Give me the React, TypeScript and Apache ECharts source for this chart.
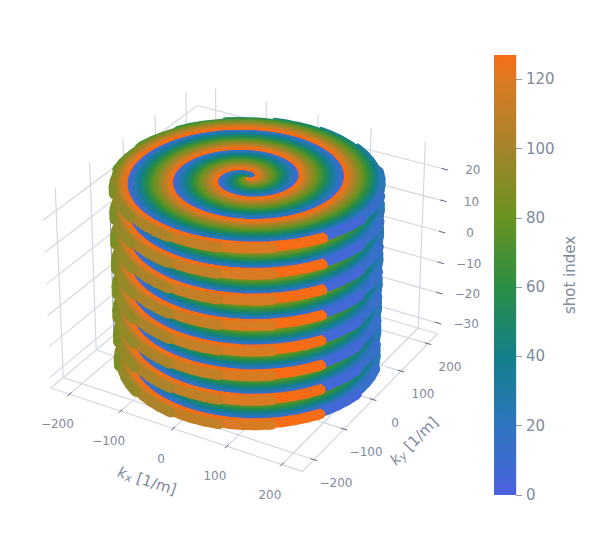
import { useEffect, useRef } from 'react'
import * as echarts from 'echarts'

const FONT = '"DejaVu Sans", sans-serif'
const TEXT = '#7f8a9c'
const GRID = '#d3d8e0'
const TICK = '#5f6b80'
const EDGE = '#8e97aa'

const kxTicks = [-200, -100, 0, 100, 200]
const kyTicks = [-200, -100, 0, 100, 200]
const kzTicks = [-30, -20, -10, 0, 10, 20]
const barTicks = [0, 20, 40, 60, 80, 100, 120]
const kRange = [-237, 237]
const kzRange = [-33.6, 27]
const shotCount = 128
const slices = [-31.4, -23.5, -15.7, -7.9, 0, 7.9, 15.7, 23.6]

// trajectory of the last shot: angle in degrees, radius in 1/m
const armAngle = [-21, 1.5, 24, 46.5, 69, 91.5, 114, 136.5, 159, 181.5, 204, 226.5, 249, 271.5, 294, 316.5, 339, 384, 429, 474, 519, 564, 609, 654, 699, 744, 789, 834, 879, 924, 969, 1014, 1053]
const armRadius = [0, 4.6, 9.2, 13.7, 18.3, 22.9, 27.5, 32.1, 36.6, 41.2, 45.8, 50.4, 55, 59.6, 64.1, 68.7, 73.3, 82.5, 91.6, 100.8, 109.9, 119.1, 128.3, 137.4, 146.6, 155.8, 164.9, 174.1, 183.2, 192.4, 201.2, 209.3, 216.8]
// every eighth shot runs on past the others by this many degrees
const longShotExtra = 33.75
const stepDeg = 5.625
const strokeWidth = 9.5
const thinWidth = 2

// thin grey lines on the left and right of the stack: polar angle, radius, z from and to
const edgeAngles = [215, 35]
const edgeRadius = 222
const edgeZ = [-23.5, 18]

const colorStops: [number, string][] = [
  [0, '#4c62e0'],
  [20, '#2f75c0'],
  [40, '#13808a'],
  [60, '#2b8e45'],
  [80, '#6a9322'],
  [100, '#a3842a'],
  [120, '#dc7a22'],
  [127, '#f76d16'],
]

// camera matrix of the 3D scene, with x, y in hundreds and z in tens
const cam = [
  50.01989, 35.15761, -1.72689, 247.20502,
  12.25007, -21.5657, -33.07224, 257.78541,
  -0.0116, 0.01827, -0.00697,
]

function project(x: number, y: number, z: number) {
  const X = x / 100, Y = y / 100, Z = z / 10
  const w = cam[8] * X + cam[9] * Y + cam[10] * Z + 1
  return [
    (cam[0] * X + cam[1] * Y + cam[2] * Z + cam[3]) / w,
    (cam[4] * X + cam[5] * Y + cam[6] * Z + cam[7]) / w,
    w,
  ]
}

function hex(c: string) {
  return [1, 3, 5].map(i => parseInt(c.slice(i, i + 2), 16))
}

function shotColor(s: number) {
  let i = 0
  while (i < colorStops.length - 2 && s > colorStops[i + 1][0]) i++
  const [s0, c0] = colorStops[i]
  const [s1, c1] = colorStops[i + 1]
  const t = (s - s0) / (s1 - s0)
  const a = hex(c0), b = hex(c1)
  return `rgb(${a.map((v, k) => Math.round(v + (b[k] - v) * t)).join(',')})`
}

const palette = Array.from({ length: shotCount }, (_, s) => shotColor(s))

function segment3d(a: number[], b: number[]) {
  const p = project(a[0], a[1], a[2])
  const q = project(b[0], b[1], b[2])
  return [p[0], p[1], q[0], q[1]]
}

function buildGrid() {
  const out: number[][] = []
  const [k0, k1] = kRange
  const [z0, z1] = kzRange
  kyTicks.forEach(y => {
    out.push(segment3d([k0, y, z0], [k0, y, z1]))
    out.push(segment3d([k0, y, z0], [k1, y, z0]))
  })
  kxTicks.forEach(x => {
    out.push(segment3d([x, k1, z0], [x, k1, z1]))
    out.push(segment3d([x, k0, z0], [x, k1, z0]))
  })
  kzTicks.forEach(z => {
    out.push(segment3d([k0, k0, z], [k0, k1, z]))
    out.push(segment3d([k0, k1, z], [k1, k1, z]))
  })
  out.push(segment3d([k0, k0, z0], [k1, k0, z0]))
  out.push(segment3d([k1, k0, z0], [k1, k1, z0]))
  out.push(segment3d([k0, k1, z0], [k1, k1, z0]))
  out.push(segment3d([k0, k0, z0], [k0, k1, z0]))
  return out
}

function buildTicks() {
  const out: number[][] = []
  const [k0, k1] = kRange
  const z0 = kzRange[0]
  kxTicks.forEach(x => out.push(segment3d([x, k0 - 6, z0], [x, k0 + 6, z0])))
  kyTicks.forEach(y => out.push(segment3d([k1 - 6, y, z0], [k1 + 6, y, z0])))
  kzTicks.forEach(z => out.push(segment3d([k1 - 6, k1, z], [k1 + 6, k1, z])))
  return out
}

function buildEdges() {
  return edgeAngles.map(deg => {
    const x = edgeRadius * Math.cos((deg * Math.PI) / 180)
    const y = edgeRadius * Math.sin((deg * Math.PI) / 180)
    return segment3d([x, y, edgeZ[0]], [x, y, edgeZ[1]])
  })
}

function buildLabels() {
  const out: (number | string)[][] = []
  const [k0, k1] = kRange
  const z0 = kzRange[0]
  const fmt = (v: number) => String(v).replace('-', '\u2212')
  kxTicks.forEach(x => {
    const p = project(x, k0, z0)
    out.push([p[0] - 12, p[1] + 30, fmt(x)])
  })
  kyTicks.forEach(y => {
    const p = project(k1, y, z0)
    out.push([p[0] + 22, p[1] + 23, fmt(y)])
  })
  kzTicks.forEach(z => {
    const p = project(k1, k1, z)
    out.push([p[0] + 28, p[1] + 1, fmt(z)])
  })
  return out
}

function radiusAt(deg: number) {
  let i = 0
  while (i < armAngle.length - 2 && deg > armAngle[i + 1]) i++
  const t = (deg - armAngle[i]) / (armAngle[i + 1] - armAngle[i])
  return armRadius[i] + (armRadius[i + 1] - armRadius[i]) * t
}

type Stroke = { points: number[][]; shot: number; width: number }

const toRad = Math.PI / 180
const armEnd = armAngle[armAngle.length - 1]

function shotTurn(s: number) {
  return ((s - (shotCount - 1)) * 360) / shotCount
}

function shotCuts(s: number) {
  const turn = shotTurn(s)
  const start = armAngle[0] + turn
  const end = (s % 8 === 7 ? armEnd : armEnd - longShotExtra) + turn
  const cuts = [start]
  for (let k = Math.ceil(start / stepDeg); k * stepDeg < end; k++) cuts.push(k * stepDeg)
  cuts.push(end)
  return cuts
}

function polar(r: number, deg: number, z: number) {
  return project(r * Math.cos(deg * toRad), r * Math.sin(deg * toRad), z)
}

// A thick line seen in depth shows, at each pixel, the shot nearest the camera, and
// that lies half a stroke lower on screen. So each slice is the outer rim as full
// strokes, ordered by depth, then the shots as thin lines moved up by half a stroke.
function buildStrokes() {
  const out: Stroke[] = []
  slices.forEach((z, layer) => {
    const top = layer === slices.length - 1
    const rim: { w: number; stroke: Stroke }[] = []
    for (let s = 7; s < shotCount; s += 8) {
      const turn = shotTurn(s)
      const cuts = shotCuts(s)
      for (let i = 1; i < cuts.length; i++) {
        const r0 = radiusAt(cuts[i - 1] - turn)
        const r1 = radiusAt(cuts[i] - turn)
        if (r1 < 200) continue
        const p = polar(r0, cuts[i - 1], z)
        const q = polar(r1, cuts[i], z)
        const mid = (Math.floor((cuts[i - 1] + cuts[i]) / 2 / stepDeg) + 0.5) * stepDeg
        rim.push({
          w: polar((r0 + r1) / 2, mid, z)[2],
          stroke: { points: [[p[0], p[1]], [q[0], q[1]]], shot: s, width: strokeWidth },
        })
      }
    }
    rim.sort((a, b) => b.w - a.w)
    rim.forEach(it => out.push(it.stroke))

    for (let s = 0; s < shotCount; s++) {
      const turn = shotTurn(s)
      let run: number[][] = []
      shotCuts(s).forEach(deg => {
        const r = radiusAt(deg - turn)
        const off = Math.abs(((deg - 298) % 360 + 540) % 360 - 180)
        if (top || (r >= 125 && off <= 120)) {
          const p = polar(r, deg, z)
          run.push([p[0], p[1] - strokeWidth / 2])
        } else if (run.length) {
          if (run.length > 1) out.push({ points: run, shot: s, width: thinWidth })
          run = []
        }
      })
      if (run.length > 1) out.push({ points: run, shot: s, width: thinWidth })
    }
  })
  return out
}

export default function App() {
  const chartRef = useRef<HTMLDivElement>(null)

  useEffect(() => {
    if (!chartRef.current) return
    document.body.style.margin = '0'
    const chart = echarts.init(chartRef.current, null, { renderer: 'svg' })

    const lineItem = (color: string, width: number) => (_: any, api: any) => {
      const a = api.coord([api.value(0), api.value(1)])
      const b = api.coord([api.value(2), api.value(3)])
      return {
        type: 'line',
        shape: { x1: a[0], y1: a[1], x2: b[0], y2: b[1] },
        style: { stroke: color, lineWidth: width, fill: null },
      }
    }

    const titleRich = {
      k: { fontFamily: FONT, fontStyle: 'italic', fontSize: 15, fill: TEXT },
      s: { fontFamily: FONT, fontStyle: 'italic', fontSize: 11, fill: TEXT, padding: [6, 0, 0, 0] },
      n: { fontFamily: FONT, fontSize: 15, fill: TEXT },
    }

    const strokes = buildStrokes()

    const option = {
      animation: false,
      backgroundColor: '#fff',
      textStyle: { fontFamily: FONT },
      grid: [
        { left: 0, top: 0, width: 605, height: 550 },
        { left: 494, top: 55, width: 22, height: 440 },
      ],
      xAxis: [
        { type: 'value', gridIndex: 0, min: 0, max: 605, show: false },
        { type: 'category', gridIndex: 1, data: ['shot'], show: false },
      ],
      yAxis: [
        { type: 'value', gridIndex: 0, min: 0, max: 550, inverse: true, show: false },
        {
          type: 'value',
          gridIndex: 1,
          position: 'right',
          min: 0,
          max: shotCount - 1,
          name: 'shot index',
          nameLocation: 'middle',
          nameRotate: 90,
          nameGap: 46,
          nameTextStyle: { color: TEXT, fontSize: 15, fontFamily: FONT },
          axisLine: { show: true, lineStyle: { color: '#e3e6ed' } },
          axisTick: { show: true, length: 6, customValues: barTicks, lineStyle: { color: '#8d97aa' } },
          axisLabel: { color: TEXT, fontSize: 15, margin: 10, padding: [2, 0, 0, 0], fontFamily: FONT, customValues: barTicks },
          splitLine: { show: false },
        },
      ],
      graphic: [
        {
          type: 'text',
          x: 147,
          y: 481,
          rotation: (-18 * Math.PI) / 180,
          style: { text: '{k|k}{s|x}{n| [1/m]}', align: 'center', verticalAlign: 'middle', rich: titleRich },
        },
        {
          type: 'text',
          x: 414,
          y: 441,
          rotation: (45 * Math.PI) / 180,
          style: { text: '{k|k}{s|y}{n| [1/m]}', align: 'center', verticalAlign: 'middle', rich: titleRich },
        },
      ],
      series: [
        {
          type: 'bar',
          xAxisIndex: 1,
          yAxisIndex: 1,
          barWidth: '100%',
          silent: true,
          data: [shotCount - 1],
          itemStyle: {
            color: new echarts.graphic.LinearGradient(
              0, 1, 0, 0,
              colorStops.map(([s, c]) => ({ offset: s / (shotCount - 1), color: c })),
            ),
          },
        },
        {
          type: 'custom',
          name: 'grid',
          silent: true,
          z: 1,
          clip: false,
          progressive: 0,
          data: buildGrid(),
          encode: { x: [0, 2], y: [1, 3] },
          renderItem: lineItem(GRID, 1.2),
        },
        {
          type: 'custom',
          name: 'ticks',
          silent: true,
          z: 1,
          clip: false,
          data: buildTicks(),
          encode: { x: [0, 2], y: [1, 3] },
          renderItem: lineItem(TICK, 1),
        },
        {
          type: 'custom',
          name: 'edges',
          silent: true,
          z: 1,
          clip: false,
          data: buildEdges(),
          encode: { x: [0, 2], y: [1, 3] },
          renderItem: lineItem(EDGE, 1),
        },
        {
          type: 'custom',
          name: 'arms',
          silent: true,
          z: 2,
          clip: false,
          progressive: 0,
          data: strokes.map((st, i) => [st.points[0][0], st.points[0][1], i]),
          encode: { x: 0, y: 1 },
          renderItem: (_: any, api: any) => {
            const st = strokes[api.value(2)]
            return {
              type: 'polyline',
              shape: { points: st.points.map(p => api.coord(p)) },
              style: { stroke: palette[st.shot], lineWidth: st.width, lineCap: 'round', lineJoin: 'round', fill: null },
            }
          },
        },
        {
          type: 'custom',
          name: 'labels',
          silent: true,
          z: 3,
          clip: false,
          data: buildLabels(),
          encode: { x: 0, y: 1 },
          renderItem: (_: any, api: any) => {
            const a = api.coord([api.value(0), api.value(1)])
            return {
              type: 'text',
              x: a[0],
              y: a[1],
              style: {
                text: api.value(2),
                fontSize: 12,
                fontFamily: FONT,
                fill: TEXT,
                align: 'center',
                verticalAlign: 'middle',
              },
            }
          },
        },
      ],
    }

    chart.setOption(option as any)
    return () => chart.dispose()
  }, [])

  return <div ref={chartRef} style={{ width: 605, height: 550 }} />
}
